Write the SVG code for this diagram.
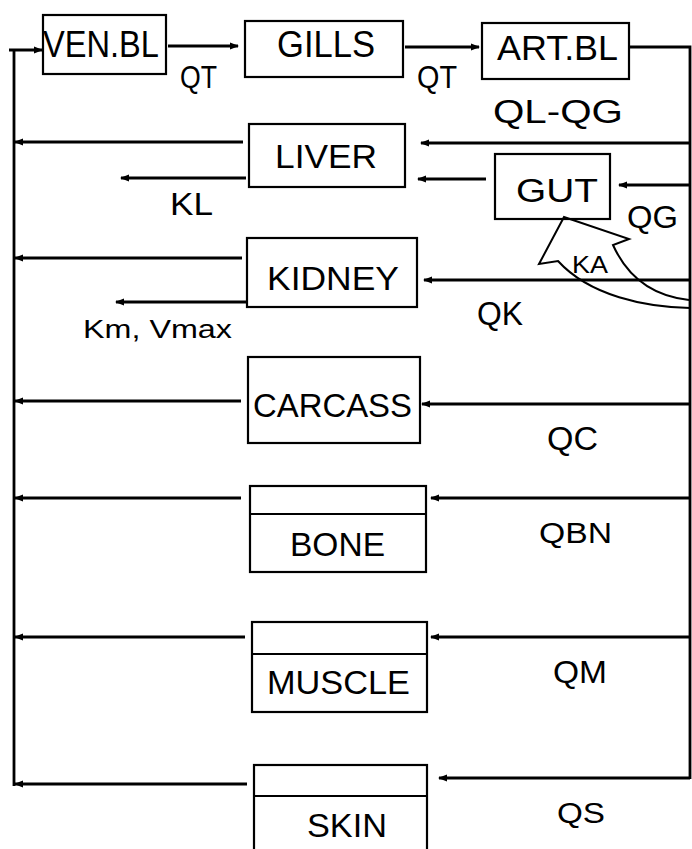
<svg xmlns="http://www.w3.org/2000/svg" width="692" height="849" viewBox="0 0 692 849">
<style>
.box{fill:none;stroke:#000;stroke-width:2.2}
.ln{fill:none;stroke:#000;stroke-width:2.8}
.t{font-family:"Liberation Sans",Arial,Helvetica,sans-serif;fill:#000}
</style>
<defs>
<marker id="ah" markerUnits="userSpaceOnUse" markerWidth="10" markerHeight="8" refX="8" refY="4" orient="auto">
<path d="M0,0.5 L9,4 L0,7.5 Z" fill="#000"/>
</marker>
</defs>
<rect width="692" height="849" fill="#fff"/>

<g id="connectors">
<polyline class="ln" points="14,786 14,51"/>
<line class="ln" x1="9" y1="50" x2="42" y2="50" marker-end="url(#ah)"/>
<line class="ln" x1="168" y1="46" x2="238" y2="46" marker-end="url(#ah)"/>
<line class="ln" x1="405" y1="47" x2="479" y2="47" marker-end="url(#ah)"/>
<polyline class="ln" points="630,47 690,47 690,779"/>
<line class="ln" x1="243" y1="142" x2="15" y2="142" marker-end="url(#ah)"/>
<line class="ln" x1="690" y1="143" x2="421" y2="143" marker-end="url(#ah)"/>
<line class="ln" x1="246" y1="178" x2="121" y2="178" marker-end="url(#ah)"/>
<line class="ln" x1="486" y1="179" x2="418" y2="179" marker-end="url(#ah)"/>
<line class="ln" x1="690" y1="185" x2="619" y2="185" marker-end="url(#ah)"/>
<line class="ln" x1="242" y1="258" x2="15" y2="258" marker-end="url(#ah)"/>
<line class="ln" x1="690" y1="280" x2="424" y2="280" marker-end="url(#ah)"/>
<line class="ln" x1="247" y1="302" x2="116" y2="302" marker-end="url(#ah)"/>
<path d="M690,308 C645,307 590,296 558,261 L539,264 L564,217 L629,239 L613,245 C627,276 652,296 689,300" fill="none" stroke="#000" stroke-width="2"/>
<line class="ln" x1="241" y1="401" x2="15" y2="401" marker-end="url(#ah)"/>
<line class="ln" x1="690" y1="404" x2="422" y2="404" marker-end="url(#ah)"/>
<line class="ln" x1="241" y1="498" x2="15" y2="498" marker-end="url(#ah)"/>
<line class="ln" x1="690" y1="498" x2="431" y2="498" marker-end="url(#ah)"/>
<line class="ln" x1="245" y1="637" x2="15" y2="637" marker-end="url(#ah)"/>
<line class="ln" x1="690" y1="637" x2="431" y2="637" marker-end="url(#ah)"/>
<line class="ln" x1="247" y1="784" x2="15" y2="784" marker-end="url(#ah)"/>
<line class="ln" x1="690" y1="778" x2="439" y2="778" marker-end="url(#ah)"/>
</g>

<g id="labels">
<text class="t" x="180" y="88" font-size="32" textLength="37" lengthAdjust="spacingAndGlyphs">QT</text>
<text class="t" x="417" y="88" font-size="32" textLength="40" lengthAdjust="spacingAndGlyphs">QT</text>
<text class="t" x="493" y="123" font-size="33" textLength="130" lengthAdjust="spacingAndGlyphs">QL-QG</text>
<text class="t" x="170" y="215" font-size="32" textLength="43" lengthAdjust="spacingAndGlyphs">KL</text>
<text class="t" x="627" y="228" font-size="32" textLength="51" lengthAdjust="spacingAndGlyphs">QG</text>
<text class="t" x="572" y="273" font-size="23" textLength="36" lengthAdjust="spacingAndGlyphs">KA</text>
<text class="t" x="477" y="325" font-size="34" textLength="46" lengthAdjust="spacingAndGlyphs">QK</text>
<text class="t" x="83" y="338" font-size="26" textLength="149" lengthAdjust="spacingAndGlyphs">Km, Vmax</text>
<text class="t" x="547" y="450" font-size="34" textLength="51" lengthAdjust="spacingAndGlyphs">QC</text>
<text class="t" x="539" y="543" font-size="30" textLength="73" lengthAdjust="spacingAndGlyphs">QBN</text>
<text class="t" x="553" y="683" font-size="32" textLength="54" lengthAdjust="spacingAndGlyphs">QM</text>
<text class="t" x="557" y="823" font-size="30" textLength="48" lengthAdjust="spacingAndGlyphs">QS</text>
</g>

<g id="ven-bl">
<rect class="box" x="43" y="15" width="123" height="59"/>
<text class="t" x="43" y="57" font-size="37" textLength="116" lengthAdjust="spacingAndGlyphs">VEN.BL</text>
</g>
<g id="gills">
<rect class="box" x="245" y="21" width="158" height="56"/>
<text class="t" x="277" y="57" font-size="37" textLength="98" lengthAdjust="spacingAndGlyphs">GILLS</text>
</g>
<g id="art-bl">
<rect class="box" x="482" y="23" width="147" height="56"/>
<text class="t" x="497" y="60" font-size="35" textLength="121" lengthAdjust="spacingAndGlyphs">ART.BL</text>
</g>
<g id="liver">
<rect class="box" x="249" y="124" width="156" height="63"/>
<text class="t" x="275" y="168" font-size="33" textLength="102" lengthAdjust="spacingAndGlyphs">LIVER</text>
</g>
<g id="gut">
<rect class="box" x="495" y="154" width="115" height="65"/>
<text class="t" x="516" y="202" font-size="33" textLength="82" lengthAdjust="spacingAndGlyphs">GUT</text>
</g>
<g id="kidney">
<rect class="box" x="247" y="238" width="170" height="69"/>
<text class="t" x="267" y="290" font-size="33" textLength="132" lengthAdjust="spacingAndGlyphs">KIDNEY</text>
</g>
<g id="carcass">
<rect class="box" x="248" y="357" width="172" height="86"/>
<text class="t" x="253" y="417" font-size="33" textLength="159" lengthAdjust="spacingAndGlyphs">CARCASS</text>
</g>
<g id="bone">
<rect class="box" x="250" y="486" width="176" height="86"/>
<line class="box" x1="250" y1="514" x2="426" y2="514"/>
<text class="t" x="290" y="556" font-size="33" textLength="95" lengthAdjust="spacingAndGlyphs">BONE</text>
</g>
<g id="muscle">
<rect class="box" x="252" y="622" width="175" height="90"/>
<line class="box" x1="252" y1="654" x2="427" y2="654"/>
<text class="t" x="267" y="694" font-size="33" textLength="143" lengthAdjust="spacingAndGlyphs">MUSCLE</text>
</g>
<g id="skin">
<rect class="box" x="254" y="765" width="173" height="100"/>
<line class="box" x1="254" y1="796" x2="427" y2="796"/>
<text class="t" x="307" y="837" font-size="34" textLength="80" lengthAdjust="spacingAndGlyphs">SKIN</text>
</g>
</svg>
